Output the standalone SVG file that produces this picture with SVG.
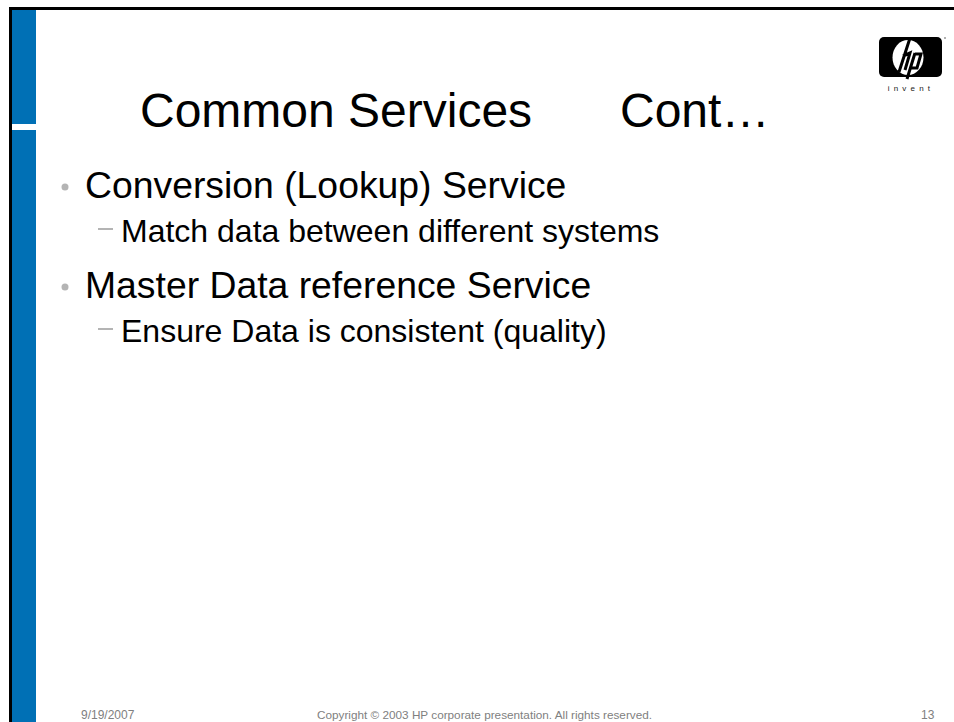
<svg xmlns="http://www.w3.org/2000/svg" width="954" height="722" viewBox="0 0 954 722">
<style>
text{font-family:"Liberation Sans",Arial,sans-serif}
.h1{font-size:48px;fill:#000}
.l1{font-size:37.33px;fill:#000}
.l2{font-size:32px;fill:#000}
.b{fill:#b4b4b4}
.f{font-size:12px;fill:#808080}
.g{fill:none;stroke:#000;stroke-width:3}
</style>
<rect width="954" height="722" fill="#fff"/>
<rect x="12" y="10" width="24" height="712" fill="#0070b5"/>
<rect x="12" y="124" width="24" height="6" fill="#fff"/>
<rect x="9" y="7" width="945" height="3" fill="#000"/>
<rect x="9" y="7" width="3" height="715" fill="#000"/>
<g id="logo">
<rect x="879" y="37" width="63" height="40" rx="5" fill="#000"/>
<ellipse cx="908" cy="57.500" rx="15.500" ry="17.500" fill="#fff"/>
<path class="g" d="M910 38L899 72M903 56L910 53L905 70M915 53L907 79M915 54H921L917 68H910"/>
<circle cx="945" cy="38" r="1" fill="#999"/>
<text x="911" y="91" font-size="8" text-anchor="middle" letter-spacing="4.200" fill="#222">invent</text>
</g>
<text class="h1" x="140" y="127">Common Services</text>
<text class="h1" x="620" y="127">Cont…</text>
<circle class="b" cx="65" cy="187" r="3.500"/>
<text class="l1" x="85" y="198">Conversion (Lookup) Service</text>
<rect class="b" x="98" y="228" width="15" height="2"/>
<text class="l2" x="121" y="241.500">Match data between different systems</text>
<circle class="b" cx="65" cy="287" r="3.500"/>
<text class="l1" x="85" y="298">Master Data reference Service</text>
<rect class="b" x="98" y="328" width="15" height="2"/>
<text class="l2" x="121" y="341.500">Ensure Data is consistent (quality)</text>
<text class="f" x="81" y="719">9/19/2007</text>
<text class="f" x="317" y="719" style="font-size:11.750px">Copyright © 2003 HP corporate presentation. All rights reserved.</text>
<text class="f" x="921" y="719">13</text>
</svg>
